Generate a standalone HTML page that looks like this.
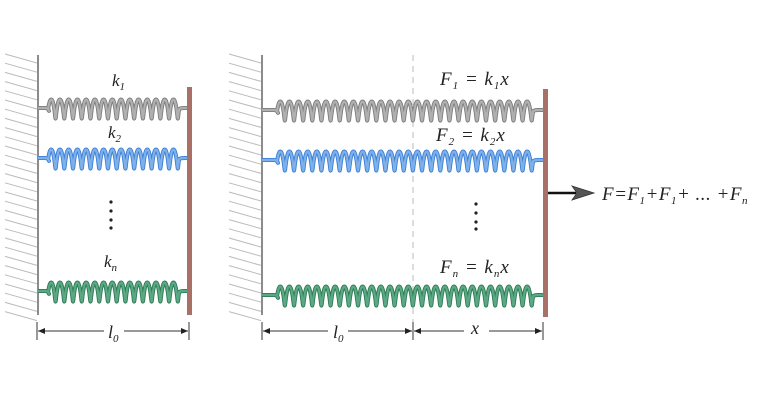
<!DOCTYPE html>
<html><head><meta charset="utf-8"><style>
html,body{margin:0;padding:0;background:#fff;}
svg{display:block;}
text{font-family:"Liberation Serif",serif;font-style:italic;fill:#222;}
</style></head><body>
<svg id="s" width="768" height="403" viewBox="0 0 768 403" xmlns="http://www.w3.org/2000/svg">
<defs>
<marker id="ah" markerWidth="8" markerHeight="8" refX="7" refY="4" orient="auto" markerUnits="userSpaceOnUse"><path d="M0,1 L7,4 L0,7 Z" fill="#222"/></marker>
<marker id="at" markerWidth="8" markerHeight="8" refX="0" refY="4" orient="auto" markerUnits="userSpaceOnUse"><path d="M7,1 L0,4 L7,7 Z" fill="#222"/></marker>
</defs>
<g id="hatch" stroke="#bbb" stroke-width="1"></g>
<line x1="38" y1="55" x2="38" y2="315" stroke="#666" stroke-width="1.5"/>
<line x1="262" y1="55" x2="262" y2="315" stroke="#666" stroke-width="1.5"/>
<line x1="413" y1="55" x2="413" y2="322" stroke="#bbb" stroke-width="1" stroke-dasharray="6,5"/>
<g id="springs"></g>
<rect x="187" y="87" width="5" height="228" fill="#a87066"/>
<rect x="543" y="89" width="5" height="228" fill="#a87066"/>
<text x="112" y="86" font-size="17">k<tspan font-size="11" dy="4">1</tspan></text>
<text x="108" y="138" font-size="17">k<tspan font-size="11" dy="4">2</tspan></text>
<text x="104" y="267" font-size="17">k<tspan font-size="11" dy="4">n</tspan></text>
<g fill="#222"><circle cx="111" cy="202" r="1.6"/><circle cx="111" cy="211" r="1.6"/><circle cx="111" cy="220" r="1.6"/><circle cx="111" cy="228" r="1.6"/>
<circle cx="476" cy="204" r="1.6"/><circle cx="476" cy="213" r="1.6"/><circle cx="476" cy="222" r="1.6"/><circle cx="476" cy="229" r="1.6"/></g>
<text x="440" y="85" font-size="19" letter-spacing="1">F<tspan font-size="11" dy="4">1</tspan><tspan dy="-4"> = k</tspan><tspan font-size="11" dy="4">1</tspan><tspan dy="-4">x</tspan></text>
<text x="436" y="141" font-size="19" letter-spacing="1">F<tspan font-size="11" dy="4">2</tspan><tspan dy="-4"> = k</tspan><tspan font-size="11" dy="4">2</tspan><tspan dy="-4">x</tspan></text>
<text x="440" y="273" font-size="19" letter-spacing="1">F<tspan font-size="11" dy="4">n</tspan><tspan dy="-4"> = k</tspan><tspan font-size="11" dy="4">n</tspan><tspan dy="-4">x</tspan></text>
<text x="602" y="200" font-size="19" letter-spacing="0.5">F=F<tspan font-size="11" dy="4">1</tspan><tspan dy="-4">+F</tspan><tspan font-size="11" dy="4">1</tspan><tspan dy="-4">+ ... +F</tspan><tspan font-size="11" dy="4">n</tspan></text>
<line x1="548" y1="193" x2="576" y2="193" stroke="#111" stroke-width="2.5"/>
<path d="M572,186 L594,193 L572,200 L577,193 Z" fill="#555" stroke="#333" stroke-width="0.8"/>
<g stroke="#333" stroke-width="1">
<line x1="37" y1="322" x2="37" y2="340"/><line x1="189" y1="322" x2="189" y2="340"/>
<line x1="262" y1="322" x2="262" y2="340"/><line x1="413" y1="322" x2="413" y2="340"/><line x1="543" y1="322" x2="543" y2="340"/>
<line x1="38" y1="331" x2="104" y2="331" marker-start="url(#at)"/><line x1="124" y1="331" x2="188" y2="331" marker-end="url(#ah)"/>
<line x1="263" y1="331" x2="328" y2="331" marker-start="url(#at)"/><line x1="348" y1="331" x2="412" y2="331" marker-end="url(#ah)"/>
<line x1="414" y1="331" x2="464" y2="331" marker-start="url(#at)"/><line x1="489" y1="331" x2="542" y2="331" marker-end="url(#ah)"/>
</g>
<text x="108" y="338" font-size="18">l<tspan font-size="11" dy="4">0</tspan></text>
<text x="333" y="338" font-size="18">l<tspan font-size="11" dy="4">0</tspan></text>
<text x="471" y="334" font-size="18">x</text>
</svg>
<script>
(function(){
var NS="http://www.w3.org/2000/svg";
var h=document.getElementById("hatch");
[[5,38],[229,262]].forEach(function(w){
 for(var y=54;y<312;y+=9.2){var l=document.createElementNS(NS,"line");
 l.setAttribute("x1",w[0]);l.setAttribute("y1",y);l.setAttribute("x2",w[1]-1);l.setAttribute("y2",y+9);h.appendChild(l);}
});
var sg=document.getElementById("springs");
function spring(x0,x1,c0,c1,yc,n,dark,light){
 var p=(c1-c0)/n, a=p*0.1, hh=9.5;
 var d="M"+x0+","+yc+" L"+(c0-4)+","+yc+" Q"+(c0-1)+","+yc+" "+c0+","+(yc+hh*0.3);
 for(var i=0;i<=n*40;i++){var t=-Math.PI/2+i/40*2*Math.PI;
  var x=c0+p*(t+Math.PI/2)/(2*Math.PI)+a*Math.sin(t);
  var y=yc-hh*Math.cos(t)+1;
  d+=" L"+x.toFixed(2)+","+y.toFixed(2);}
 d+=" Q"+(c1+1)+","+yc+" "+(c1+4)+","+yc+" L"+x1+","+yc;
 [[dark,4],[light,2.2]].forEach(function(s){var e=document.createElementNS(NS,"path");
  e.setAttribute("d",d);e.setAttribute("fill","none");e.setAttribute("stroke",s[0]);e.setAttribute("stroke-width",s[1]);e.setAttribute("stroke-linejoin","round");sg.appendChild(e);});
}
spring(38,188,49,180,108,15,"#7d7d7d","#b0b0b0");
spring(38,188,49,180,158,15,"#3b7fd8","#7fb1e8");
spring(38,188,49,180,291,15,"#2f7a58","#5aa982");
spring(262,544,278,534,110,28,"#7d7d7d","#b0b0b0");
spring(262,544,278,534,160,28,"#3b7fd8","#7fb1e8");
spring(262,544,278,534,295,28,"#2f7a58","#5aa982");
})();
</script>
</body></html>
